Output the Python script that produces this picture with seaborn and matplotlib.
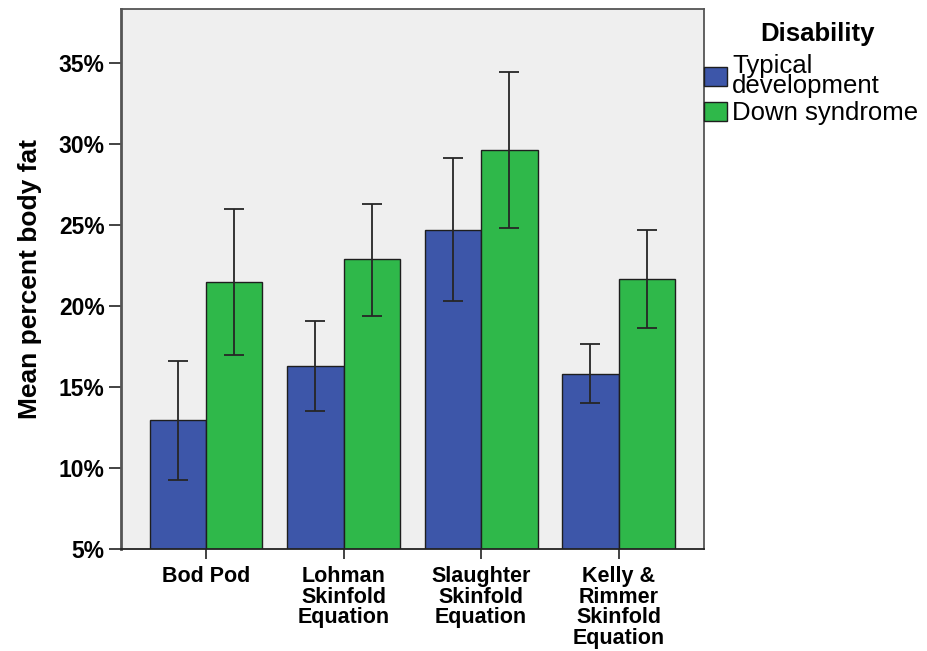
import numpy as np
import pandas as pd
import matplotlib
matplotlib.use("Agg")
import matplotlib.pyplot as plt
import seaborn as sns
from matplotlib.ticker import FuncFormatter

# Mean percent body fat by method and group, with error-bar limits
methods = ["Bod Pod", "Lohman\nSkinfold\nEquation", "Slaughter\nSkinfold\nEquation",
           "Kelly &\nRimmer\nSkinfold\nEquation"]
groups = ["Typical\ndevelopment", "Down syndrome"]
typical_mean = [13.0, 16.3, 24.7, 15.8]
typical_low = [9.3, 13.5, 20.3, 14.0]
typical_high = [16.6, 19.1, 29.1, 17.65]
down_mean = [21.5, 22.9, 29.6, 21.65]
down_low = [16.95, 19.4, 24.8, 18.65]
down_high = [26.0, 26.3, 34.4, 24.7]

df = pd.DataFrame({
    "method": methods * 2,
    "group": [groups[0]] * 4 + [groups[1]] * 4,
    "mean": typical_mean + down_mean,
    "low": typical_low + down_low,
    "high": typical_high + down_high,
})

sns.set_theme(style="white")
plt.rcParams["font.family"] = ["Liberation Sans", "DejaVu Sans"]
plt.rcParams["text.color"] = "black"
plt.rcParams["axes.labelcolor"] = "black"
plt.rcParams["xtick.color"] = "black"
plt.rcParams["ytick.color"] = "black"

palette = {groups[0]: "#3d56a9", groups[1]: "#2fb84a"}

fig = plt.figure(figsize=(9.28, 6.51), dpi=100)
ax = fig.add_axes([0.130, 0.1562, 0.6286, 0.830])
ax.set_facecolor("#efefef")

sns.barplot(data=df, x="method", y="mean", hue="group", order=methods,
            hue_order=groups, palette=palette, errorbar=None, width=0.82,
            edgecolor="#1e1e1e", linewidth=1.0, saturation=1, ax=ax)

# error bars placed on each bar of each hue container
for container, g in zip(ax.containers, groups):
    sub = df[df["group"] == g].set_index("method").loc[methods]
    xs = [p.get_x() + p.get_width() / 2 for p in container.patches]
    means = sub["mean"].to_numpy()
    yerr = np.vstack([means - sub["low"].to_numpy(), sub["high"].to_numpy() - means])
    ax.errorbar(xs, means, yerr=yerr, fmt="none", ecolor="#262626",
                elinewidth=1.3, capsize=7.5, capthick=1.3, zorder=5)

ax.set_xlim(-0.62, 3.62)
ax.set_ylim(5, 38.3)
ax.set_yticks([5, 10, 15, 20, 25, 30, 35])
ax.yaxis.set_major_formatter(FuncFormatter(lambda v, _: f"{v:.0f}%"))

ax.set_xlabel("")
ax.set_ylabel("Mean percent body fat", fontsize=19, fontweight="bold", labelpad=12)

ax.tick_params(axis="y", which="major", direction="out", length=8.5, width=1.2,
               color="#222222", labelcolor="black", labelsize=16.5, pad=3, left=True)
ax.tick_params(axis="x", which="major", direction="out", length=7, width=1.2,
               color="#222222", labelcolor="black", labelsize=15.5, pad=5, bottom=True)
for lab in ax.get_yticklabels():
    lab.set_fontweight("bold")
for lab in ax.get_xticklabels():
    lab.set_fontweight("bold")
    lab.set_linespacing(0.97)

for side in ["left", "right", "top", "bottom"]:
    ax.spines[side].set_visible(True)
    ax.spines[side].set_color("#555555")
    ax.spines[side].set_linewidth(1.3)
ax.spines["left"].set_linewidth(2.0)
ax.spines["bottom"].set_color("#222222")

# legend title drawn separately so the entries can sit a little lower
fig.text(0.881, 0.948, "Disability", ha="center", va="center",
         fontsize=18.5, fontweight="bold", color="black")
handles, labels = ax.get_legend_handles_labels()
leg = ax.legend(handles, labels, loc="upper left",
                bbox_to_anchor=(1.0, 0.917), frameon=False, fontsize=18.5,
                handlelength=0.88, handleheight=0.75, handletextpad=0.22,
                labelspacing=0.12, borderpad=0.0, borderaxespad=0.0)
for t in leg.get_texts():
    t.set_linespacing(0.8)
    t.set_color("black")
for h in leg.legend_handles:
    h.set_edgecolor("#1e1e1e")
    h.set_linewidth(1.0)

fig.savefig("out.png", dpi=100)
